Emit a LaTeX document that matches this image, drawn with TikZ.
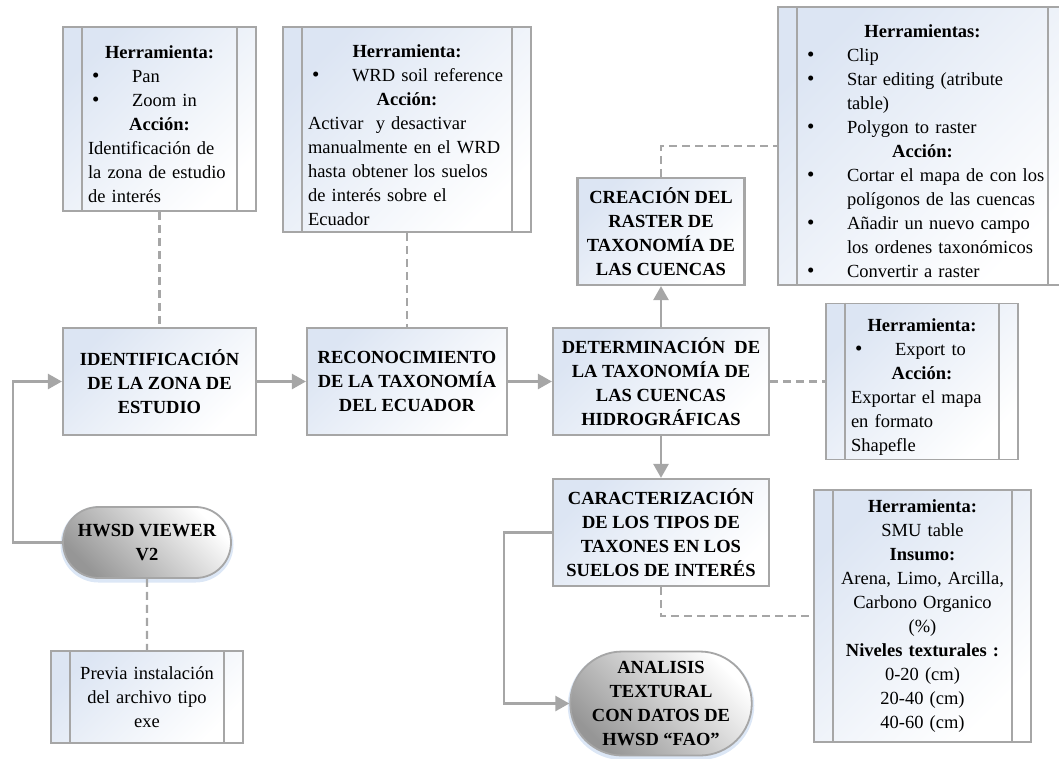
\documentclass[tikz,border=0pt]{standalone}
\usepackage{fontspec}
\setmainfont{Liberation Serif}
\usetikzlibrary{arrows.meta,shapes.misc}

\definecolor{linegray}{RGB}{166,166,166}
\definecolor{boxblue}{RGB}{220,229,243}
\definecolor{termgray}{RGB}{150,150,150}
\definecolor{glowblue}{RGB}{205,221,242}

% centred bold heading line inside a note box
\newcommand\hd[1]{\par\makebox[\linewidth]{\bfseries #1}\par}
% bullet item with hanging indent; optional extra left offset
\newcommand\bitem[2][0pt]{\par\hangindent=\dimexpr44pt+#1\relax\hangafter=1
  \makebox[\dimexpr44pt+#1\relax][l]{\hspace{\dimexpr4pt+#1\relax}{\fontsize{21}{24}\selectfont •}}#2\par}
% the two inner bars of a note box
\newcommand\sidebars[1]{%
  \draw[barline] ([xshift=20pt]#1.north west) -- ([xshift=20pt]#1.south west)
                 ([xshift=-20pt]#1.north east) -- ([xshift=-20pt]#1.south east);}
% no hyphenation inside boxes
\newcommand\nohyph{\hyphenpenalty=10000\relax\exhyphenpenalty=10000\relax}

\tikzset{
  txt/.style={font=\fontsize{18.5}{24}\selectfont\nohyph},
  proc/.style={draw=linegray, line width=2.2pt, top color=boxblue, bottom color=white,
    shading angle=45, inner sep=0pt, align=center, font=\fontsize{18.5}{24}\selectfont\bfseries},
  note/.style={txt, draw=linegray, line width=1.8pt, top color=boxblue, bottom color=white,
    shading angle=45, inner sep=0pt, align=left},
  term/.style={rounded rectangle, draw=linegray, line width=1.8pt, top color=white,
    bottom color=termgray, shading angle=-45, inner sep=0pt, align=center,
    font=\fontsize{18.5}{24}\selectfont\bfseries,
    preaction={draw=glowblue, line width=5pt, opacity=0.7, transform canvas={yshift=-2pt}}},
  barline/.style={draw=linegray, line width=1.8pt},
  flow/.style={draw=linegray, line width=2.6pt, -{Triangle[length=14pt,width=15pt]}},
  link/.style={draw=linegray, line width=2.2pt, dash pattern=on 8pt off 5pt},
}

\begin{document}
\begin{tikzpicture}[x=1pt,y=-1pt]
\useasboundingbox (0,0) rectangle (1059,758);

% ---- main process chain ----
\node[proc, minimum width=193pt, minimum height=107pt] (ident) at (159.5,381.5)
  {IDENTIFICACIÓN\\DE LA ZONA DE\\ESTUDIO};
\node[proc, minimum width=200pt, minimum height=107pt] (recon) at (407,381.5)
  {RECONOCIMIENTO\\DE LA TAXONOMÍA\\DEL ECUADOR};
\node[proc, minimum width=216pt, minimum height=107pt] (determ) at (661,381.5)
  {DETERMINACIÓN\ \ DE\\LA TAXONOMÍA DE\\LAS CUENCAS\\HIDROGRÁFICAS};
\node[proc, minimum width=167pt, minimum height=107pt] (crea) at (661,231.5)
  {CREACIÓN DEL\\RASTER DE\\TAXONOMÍA DE\\LAS CUENCAS};
\node[proc, minimum width=216pt, minimum height=107pt] (caract) at (661,532.5)
  {CARACTERIZACIÓN\\DE LOS TIPOS DE\\TAXONES EN LOS\\SUELOS DE INTERÉS};

% ---- terminals ----
\node[term, minimum width=168pt, minimum height=71pt] (hwsd) at (147,542.5)
  {HWSD VIEWER\\V2};
\node[term, minimum width=168pt, minimum height=104pt] (analisis) at (661,703.5)
  {ANALISIS\\TEXTURAL\\CON DATOS DE\\HWSD “FAO”};

% ---- note boxes ----
\node[note, minimum width=193pt, minimum height=184pt, text width=143pt] (hA) at (159.5,119)
  {\hd{Herramienta:}\bitem{Pan}\bitem{Zoom in}\hd{Acción:}%
   Identificación de\newline la zona de estudio\newline de interés};
\sidebars{hA}

\node[note, minimum width=248pt, minimum height=205pt, text width=198pt] (hB) at (407,129.5)
  {\hd{Herramienta:}\bitem{WRD soil reference}\hd{Acción:}%
   Activar\ \ y desactivar\newline manualmente en el WRD\newline hasta obtener los suelos\newline
   de interés sobre el\newline Ecuador};
\sidebars{hB}

\node[note, minimum width=289pt, minimum height=278pt, text width=253pt] (hC) at (922.5,146)
  {\hd{Herramientas:}\bitem[7pt]{Clip}\bitem[7pt]{Star editing (atribute\newline table)}%
   \bitem[7pt]{Polygon to raster}\hd{Acción:}%
   \bitem[7pt]{Cortar el mapa de con los\newline polígonos de las cuencas}%
   \bitem[7pt]{Añadir un nuevo campo\newline los ordenes taxonómicos}%
   \bitem[7pt]{Convertir a raster}};
\sidebars{hC}

\node[note, minimum width=192pt, minimum height=156pt, text width=142pt] (hD) at (922,381.5)
  {\hd{Herramienta:}\bitem{Export to}\hd{Acción:}%
   Exportar el mapa\newline en formato\newline Shapefle};
\sidebars{hD}

\node[note, minimum width=217pt, minimum height=252pt, text width=167pt, align=center] (hE) at (922.5,616)
  {\textbf{Herramienta:}\\SMU table\\\textbf{Insumo:}\\Arena, Limo, Arcilla,\\Carbono Organico\\(\%)\\
   \textbf{Niveles texturales :}\\0-20 (cm)\\20-40 (cm)\\40-60 (cm)};
\sidebars{hE}

\node[note, minimum width=192pt, minimum height=92pt, text width=142pt, align=center] (hF) at (147,697)
  {Previa instalación\\del archivo tipo\\exe};
\sidebars{hF}

% ---- connectors ----
\draw[flow] (ident) -- (recon);
\draw[flow] (recon) -- (determ);
\draw[flow] (determ) -- (crea);
\draw[flow] (determ) -- (caract);
\draw[flow] (hwsd.west) -- ++(-49,0) |- (ident.west);
\draw[flow] (caract.west) -- ++(-48,0) |- (analisis.west);

\draw[link] (hA) -- (ident);
\draw[link] (hB) -- (recon);
\draw[link] (crea.north) |- (hC.west);
\draw[link] (determ) -- (hD);
\draw[link] (caract.south) |- (hE.west);
\draw[link] (hwsd) -- (hF);
\end{tikzpicture}
\end{document}
